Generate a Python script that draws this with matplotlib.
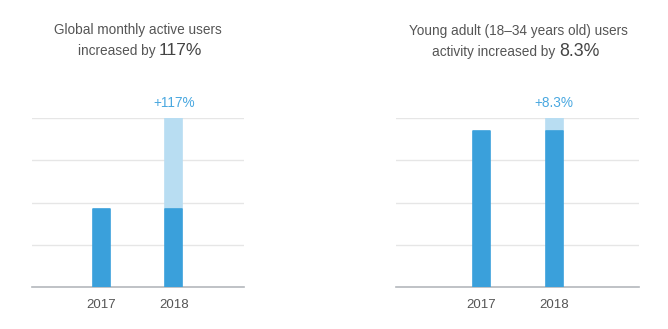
import matplotlib.pyplot as plt

plt.rcParams['font.family'] = ['Liberation Sans', 'DejaVu Sans']

# === Data ===
years = ["2017", "2018"]
global_users = [1.843, 4.0]        # relative, 2018 = 2017 * 2.17
young_users = [3.693, 4.0]         # relative, 2018 = 2017 * 1.083
global_label = "+117%"
young_label = "+8.3%"

dark = "#3aa0db"
light = "#b8ddf2"
grid_c = "#e6e6e6"
text_c = "#555555"

W, H = 668, 329
fig = plt.figure(figsize=(W / 100, H / 100), dpi=100)


def fx(px):
    return px / W


def fy(py):
    return 1 - py / H


def panel(left_px, right_px, values, label, xlim):
    ax = fig.add_axes([fx(left_px), fy(287), fx(right_px - left_px), fy(118) - fy(287)])
    x = list(range(len(years)))
    base = values[0]
    # base part of every bar, extra growth on top
    ax.bar(x, [base] * len(values), width=0.234, color=dark, edgecolor=dark,
           linewidth=1.2, joinstyle='round', zorder=3)
    ax.bar(x[1:], [v - base for v in values[1:]], bottom=base, width=0.234,
           color=light, edgecolor=light, linewidth=1.2, joinstyle='round', zorder=2)
    ax.set_xlim(*xlim)
    ax.set_ylim(0, 4)
    ax.set_yticks([1, 2, 3, 4])
    ax.yaxis.grid(True, color=grid_c, linewidth=1)
    ax.set_axisbelow(True)
    ax.tick_params(axis='y', left=False, labelleft=False)
    ax.tick_params(axis='x', length=0, pad=9, labelsize=9.5, labelcolor=text_c)
    ax.set_xticks(x)
    ax.set_xticklabels(years)
    for s in ['top', 'right', 'left']:
        ax.spines[s].set_visible(False)
    ax.spines['bottom'].set_color("#b4b8bc")
    ax.spines['bottom'].set_linewidth(1.2)
    ax.annotate(label, (x[-1], values[-1]), xytext=(0, 6), textcoords='offset points',
                ha='center', va='bottom', color="#4aa8e0", fontsize=9.8)
    return ax


panel(32, 244, global_users, global_label, (-0.96, 1.97))
panel(396, 639, young_users, young_label, (-1.18, 2.17))

# === Titles ===
fig.text(fx(138), fy(34), "Global monthly active users", ha='center', va='baseline',
         fontsize=9.8, color=text_c)
fig.text(fx(156), fy(55), "increased by", ha='right', va='baseline', fontsize=9.8, color=text_c)
fig.text(fx(159), fy(55), "117%", ha='left', va='baseline', fontsize=12.5, color="#444444")

fig.text(fx(518), fy(35), "Young adult (18\u201334 years old) users", ha='center', va='baseline',
         fontsize=9.8, color=text_c)
fig.text(fx(555), fy(56), "activity increased by", ha='right', va='baseline', fontsize=9.8, color=text_c)
fig.text(fx(559), fy(56), "8.3%", ha='left', va='baseline', fontsize=12.8, color="#444444")

fig.savefig("out.png", dpi=100)
